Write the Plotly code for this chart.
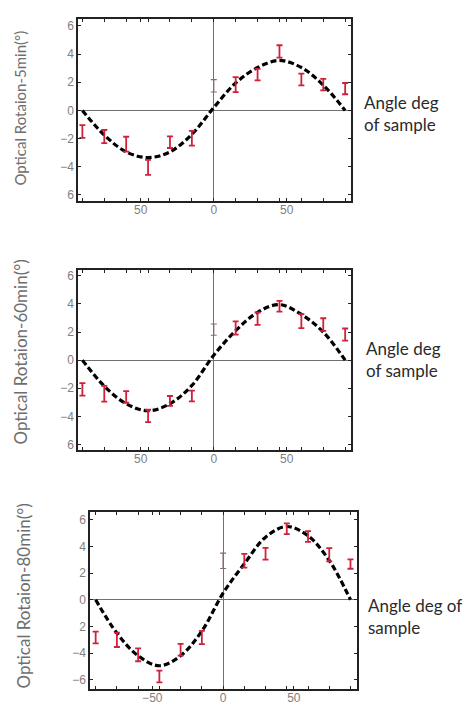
import plotly.graph_objects as go

# ---- data ----
angles = [-90, -75, -60, -45, -30, -15, 0, 15, 30, 45, 60, 75, 90]

rot_5min = [-1.5, -1.86, -2.4, -4.05, -2.26, -1.98, 1.75, 1.83, 2.54, 4.19, 2.2, 1.83, 1.55]
err_5min = [0.45, 0.47, 0.53, 0.53, 0.41, 0.52, 0.44, 0.53, 0.41, 0.44, 0.42, 0.41, 0.40]
fit_5min = [0.0, -1.75, -2.95, -3.35, -2.95, -1.7, 0.2, 1.95, 3.05, 3.55, 3.05, 1.8, 0.0]

rot_60min = [-2.08, -2.39, -2.62, -3.97, -2.9, -2.55, 2.17, 2.29, 2.95, 3.83, 2.77, 2.53, 1.82]
err_60min = [0.44, 0.56, 0.41, 0.44, 0.35, 0.38, 0.40, 0.47, 0.44, 0.38, 0.50, 0.45, 0.43]
fit_60min = [0.0, -1.85, -3.1, -3.6, -3.1, -1.8, 0.35, 2.1, 3.4, 3.95, 3.25, 2.0, 0.0]

rot_80min = [-2.83, -3.0, -4.13, -5.75, -3.75, -2.83, 2.93, 2.93, 3.45, 5.33, 4.75, 3.38, 2.68]
err_80min = [0.44, 0.54, 0.48, 0.44, 0.44, 0.50, 0.58, 0.52, 0.44, 0.40, 0.40, 0.50, 0.35]
fit_80min = [0.0, -2.5, -4.2, -4.95, -4.2, -2.35, 0.5, 2.7, 4.7, 5.5, 4.8, 2.95, 0.0]

ylabels = ["Optical Rotaion-5min(°)", "Optical Rotaion-60min(°)", "Optical Rotaion-80min(°)"]
side_text = ["Angle deg<br>of sample", "Angle deg<br>of sample", "Angle deg of<br>sample"]

ytick_vals = [6, 4, 2, 0, -2, -4, -6]
ytick_text_12 = ["6", "4", "2", "0", "\u22122", "\u22124", "6"]
ytick_text_3 = ["6", "4", "2", "0", "2", "\u22124", "\u22126"]
xtick_vals = [-50, 0, 50]
xtick_text_12 = ["50", "0", "50"]
xtick_text_3 = ["\u221250", "0", "50"]

W, H = 471, 704
panels = [
    dict(rot=rot_5min, err=err_5min, fit=fit_5min, xr=[-93, 94], yr=[-6.45, 6.5],
         px=(70, 343), py=(10, 193), yt=ytick_text_12, xt=xtick_text_12,
         lab=(12, 100, 15), side=(354, 105)),
    dict(rot=rot_60min, err=err_60min, fit=fit_60min, xr=[-93, 94], yr=[-6.4, 6.42],
         px=(70, 343), py=(262, 443), yt=ytick_text_12, xt=xtick_text_12,
         lab=(13, 345, 17), side=(356, 352)),
    dict(rot=rot_80min, err=err_80min, fit=fit_80min, xr=[-94, 94.6], yr=[-6.7, 6.6],
         px=(82, 349), py=(505, 683), yt=ytick_text_3, xt=xtick_text_3,
         lab=(15, 590, 17), side=(358, 610)),
]

fig = go.Figure()
layout = dict(width=W, height=H, margin=dict(l=0, r=0, t=0, b=0),
              paper_bgcolor="white", plot_bgcolor="white", showlegend=False,
              annotations=[])

tickfont = dict(family="Liberation Sans, Arial, sans-serif", size=12, color="#808080")

for i, p in enumerate(panels):
    n = "" if i == 0 else str(i + 1)
    xa, ya = "x" + n, "y" + n
    # fitted dashed curve
    fig.add_trace(go.Scatter(x=angles, y=p["fit"], mode="lines", xaxis=xa, yaxis=ya,
                             line=dict(color="black", width=3.2, dash="6px,3px", shape="spline"),
                             hoverinfo="skip"))
    # red error bars (non-zero angles)
    xs = [a for a in angles if a != 0]
    ys = [v for a, v in zip(angles, p["rot"]) if a != 0]
    es = [e for a, e in zip(angles, p["err"]) if a != 0]
    fig.add_trace(go.Scatter(x=xs, y=ys, mode="markers", xaxis=xa, yaxis=ya,
                             marker=dict(size=1, color="rgba(0,0,0,0)"),
                             error_y=dict(type="data", array=es, visible=True,
                                          color="#d0213c", thickness=1.8, width=3)))
    # gray error bar at angle 0
    x0 = [a for a in angles if a == 0]
    y0 = [v for a, v in zip(angles, p["rot"]) if a == 0]
    e0 = [e for a, e in zip(angles, p["err"]) if a == 0]
    fig.add_trace(go.Scatter(x=x0, y=y0, mode="markers", xaxis=xa, yaxis=ya,
                             marker=dict(size=1, color="rgba(0,0,0,0)"),
                             error_y=dict(type="data", array=e0, visible=True,
                                          color="#8a6a6a", thickness=1.2, width=3)))
    x0p, x1p = p["px"]
    y0p, y1p = p["py"]
    layout["xaxis" + n] = dict(domain=[x0p / W, x1p / W], range=p["xr"], anchor=ya,
                               showgrid=False, zeroline=True, zerolinecolor="#707070",
                               zerolinewidth=1.2, showline=True, linecolor="#222",
                               linewidth=1.5, mirror="ticks", ticks="inside", ticklen=3,
                               tickcolor="#222", tickvals=xtick_vals, ticktext=p["xt"],
                               tickfont=tickfont, ticklabelstandoff=-3,
                               minor=dict(ticks="inside", ticklen=3, dtick=15,
                                          tick0=0, tickcolor="#222"))
    layout["yaxis" + n] = dict(domain=[1 - y1p / H, 1 - y0p / H], range=p["yr"], anchor=xa,
                               showgrid=False, zeroline=True, zerolinecolor="#707070",
                               zerolinewidth=1.2, showline=True, linecolor="#222",
                               linewidth=1.5, mirror="ticks", ticks="inside", ticklen=3,
                               tickcolor="#222", tickvals=ytick_vals, ticktext=p["yt"],
                               tickfont=tickfont)
    lx, ly, ls = p["lab"]
    layout["annotations"].append(dict(x=lx / W, y=1 - ly / H, xref="paper", yref="paper",
                                      text=ylabels[i], textangle=-90, showarrow=False,
                                      font=dict(family="Lato, sans-serif", size=ls,
                                                color="#6e6e6e"),
                                      xanchor="center", yanchor="middle"))
    sx, sy = p["side"]
    layout["annotations"].append(dict(x=sx / W, y=1 - sy / H, xref="paper", yref="paper",
                                      text=side_text[i], showarrow=False, align="left",
                                      font=dict(family="Lato, sans-serif", size=17,
                                                color="#2a2a2a"),
                                      xanchor="left", yanchor="middle"))

fig.update_layout(**layout)
fig.write_html("out.html")
